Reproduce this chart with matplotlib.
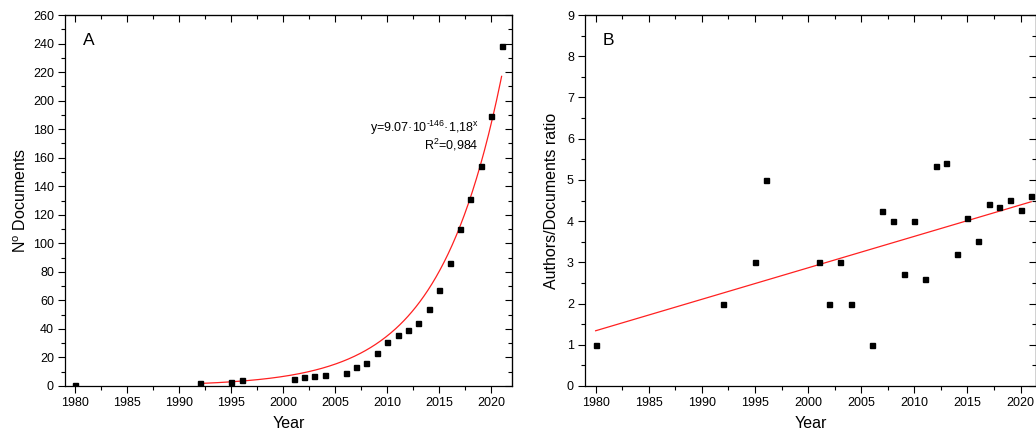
import matplotlib
matplotlib.use('Agg')
import matplotlib.pyplot as plt
from matplotlib.ticker import MultipleLocator
import numpy as np

plt.rcParams['font.family'] = ['Liberation Sans', 'DejaVu Sans']
plt.rcParams['mathtext.fontset'] = 'custom'
plt.rcParams['mathtext.rm'] = 'Liberation Sans'
plt.rcParams['mathtext.it'] = 'Liberation Sans'
plt.rcParams['mathtext.default'] = 'rm'

# data
years = [1980, 1992, 1995, 1996, 2001, 2002, 2003, 2004, 2006, 2007, 2008, 2009,
         2010, 2011, 2012, 2013, 2014, 2015, 2016, 2017, 2018, 2019, 2020, 2021]
n_docs = [1, 2, 3, 4, 5, 6, 7, 8, 9, 13, 16, 23,
          31, 36, 39, 44, 54, 67, 86, 110, 131, 154, 189, 238]
ratio = [1.0, 2.0, 3.0, 5.0, 3.0, 2.0, 3.0, 2.0, 1.0, 4.25, 4.0, 2.72,
         4.0, 2.6, 5.33, 5.41, 3.2, 4.07, 3.52, 4.42, 4.34, 4.52, 4.26, 4.62]

# exponential fit (A): y = a * 1.18^(x - 2021), drawn 1992..2021
exp_base = 1.18
exp_at_2021 = 217.0
exp_range = (1992, 2021)
# linear fit (B)
lin_start = (1980, 1.34)
lin_end = (2021, 4.47)

W, H = 1036, 434
fig = plt.figure(figsize=(W / 100, H / 100), dpi=100)


def style_axes(ax, xlim, ylim, ymaj, ymin):
    ax.set_xlim(xlim)
    ax.set_ylim(ylim)
    ax.xaxis.set_major_locator(MultipleLocator(5))
    ax.xaxis.set_minor_locator(MultipleLocator(2.5))
    ax.yaxis.set_major_locator(MultipleLocator(ymaj))
    ax.yaxis.set_minor_locator(MultipleLocator(ymin))
    ax.tick_params(which='both', direction='out', labelsize=9, width=0.8, pad=3)
    ax.tick_params(which='major', length=5)
    ax.tick_params(which='minor', length=3)
    for s in ax.spines.values():
        s.set_linewidth(0.9)
    top = ax.secondary_xaxis('top')
    top.xaxis.set_major_locator(MultipleLocator(5))
    top.xaxis.set_minor_locator(MultipleLocator(2.5))
    top.tick_params(which='both', direction='in', labeltop=False, width=0.8)
    top.tick_params(which='major', length=5)
    top.tick_params(which='minor', length=3)
    right = ax.secondary_yaxis('right')
    right.yaxis.set_major_locator(MultipleLocator(ymaj))
    right.yaxis.set_minor_locator(MultipleLocator(ymin))
    right.tick_params(which='both', direction='in', labelright=False, width=0.8)
    right.tick_params(which='major', length=5)
    right.tick_params(which='minor', length=3)
    ax.set_xlabel('Year', fontsize=11.5, labelpad=5)


# panel A
axA = fig.add_axes([65 / W, 48 / H, 447 / W, 371 / H])
style_axes(axA, (1979, 2022), (0, 260), 20, 10)
xf = np.linspace(exp_range[0], exp_range[1], 300)
axA.plot(xf, exp_at_2021 * exp_base ** (xf - 2021), color='#ff2020', lw=0.9)
axA.plot(years, n_docs, 's', color='black', ms=3.6, zorder=3)
axA.set_ylabel('N$^{o}$ Documents', fontsize=11.5, labelpad=3)
axA.text(0.04, 0.93, 'A', transform=axA.transAxes, fontsize=12.5, va='center')
axA.text(2018.8, 181, 'y=9.07·10$^{\u2010146}$·1,18$^{x}$', fontsize=9, ha='right', va='center')
axA.text(2018.8, 169, 'R$^{2}$=0,984', fontsize=9, ha='right', va='center')

# panel B
axB = fig.add_axes([585 / W, 48 / H, 451 / W, 371 / H])
style_axes(axB, (1979, 2021.45), (0, 9), 1, 0.5)
axB.plot([lin_start[0], lin_end[0]], [lin_start[1], lin_end[1]], color='#ff2020', lw=0.9)
axB.plot(years, ratio, 's', color='black', ms=3.6, zorder=3)
axB.set_ylabel('Authors/Documents ratio', fontsize=11.5, labelpad=6)
axB.text(0.04, 0.93, 'B', transform=axB.transAxes, fontsize=12.5, va='center')

fig.savefig('out.png', dpi=100)
